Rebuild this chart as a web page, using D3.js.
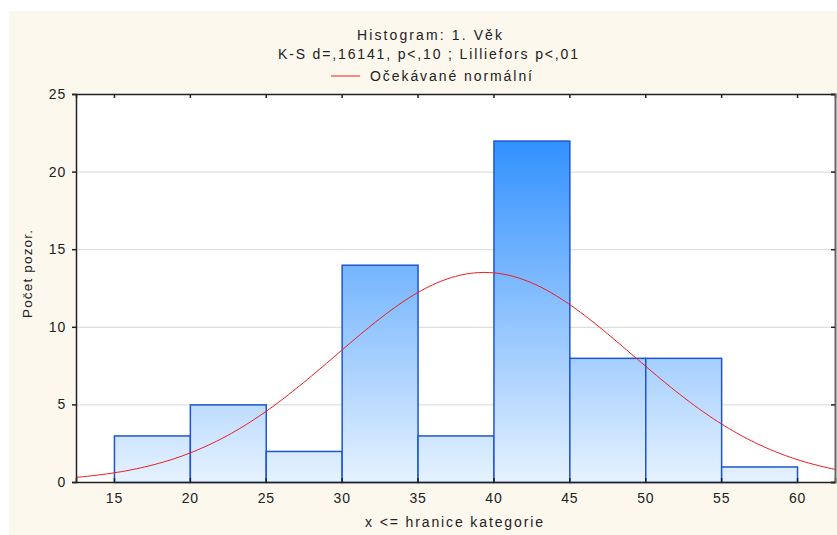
<!DOCTYPE html>
<html><head><meta charset="utf-8">
<script src="https://cdn.jsdelivr.net/npm/d3@7"></script>
<style>
html,body{margin:0;padding:0;background:#fff;}
text{font-family:"Liberation Sans",Arial,sans-serif;fill:#222;}
</style></head>
<body>
<svg id="c" width="837" height="535"></svg>
<script>
const binStarts = [15, 20, 25, 30, 35, 40, 45, 50, 55];
const binWidth = 5;
const counts = [3, 5, 2, 14, 3, 22, 8, 8, 1];
const xTicks = [15, 20, 25, 30, 35, 40, 45, 50, 55, 60];
const yTicks = [0, 5, 10, 15, 20, 25];
const normMean = 39.4;
const normSd = 9.75;
const titleLines = ["Histogram: 1. Věk", "K-S d=,16141, p<,10 ; Lilliefors p<,01"];
const legendLabel = "Očekávané normální";
const xLabel = "x <= hranice kategorie";
const yLabel = "Počet pozor.";

const svg = d3.select("#c");
svg.append("rect").attr("x",9).attr("y",11).attr("width",828).attr("height",524).attr("fill","#fdf8ee");

const L=76, R=835, T=94, B=482;
const x = d3.scaleLinear().domain([12.5,62.5]).range([L,R]);
const y = d3.scaleLinear().domain([0,25]).range([B,T]);

svg.append("rect").attr("x",L).attr("y",T).attr("width",R-L).attr("height",B-T).attr("fill","#fff");

const defs = svg.append("defs");
const g = defs.append("linearGradient").attr("id","bg").attr("gradientUnits","userSpaceOnUse")
  .attr("x1",0).attr("x2",0).attr("y1",y(25)).attr("y2",y(0));
g.append("stop").attr("offset","0%").attr("stop-color","#1a84ff");
g.append("stop").attr("offset","100%").attr("stop-color","#e6f2ff");

// gridlines
svg.append("g").selectAll("line").data(yTicks.filter(d=>d>0&&d<25)).join("line")
  .attr("x1",L).attr("x2",R).attr("y1",d=>y(d)+0.5).attr("y2",d=>y(d)+0.5)
  .attr("stroke","#d8d8d8").attr("stroke-width",1);

// bars
const total = d3.sum(counts);
svg.append("g").selectAll("rect").data(binStarts).join("rect")
  .attr("x",d=>x(d)+0.5).attr("y",(d,i)=>y(counts[i])+0.5)
  .attr("width",d=>x(d+binWidth)-x(d)).attr("height",(d,i)=>y(0)-y(counts[i]))
  .attr("fill","url(#bg)").attr("stroke","#1f56d0").attr("stroke-width",1.5);

// normal curve
const xs = d3.range(12.5, 62.5001, 0.25);
const peak = total*binWidth/(normSd*Math.sqrt(2*Math.PI));
const line = d3.line().x(d=>x(d)).y(d=>y(peak*Math.exp(-((d-normMean)**2)/(2*normSd*normSd))));
svg.append("path").datum(xs).attr("d",line).attr("fill","none").attr("stroke","#ee1c1c").attr("stroke-width",1);

// axes
const ax = svg.append("g").attr("transform",`translate(0,${B})`)
  .call(d3.axisBottom(x).tickValues(xTicks).tickSize(-4).tickPadding(11).tickFormat(d3.format("d")));
const ay = svg.append("g").attr("transform",`translate(${L},0)`)
  .call(d3.axisLeft(y).tickValues(yTicks).tickSize(4).tickPadding(6).tickFormat(d3.format("d")));
const at = svg.append("g").attr("transform",`translate(0,${T})`)
  .call(d3.axisTop(x).tickValues(xTicks).tickSize(-4).tickFormat(""));
const ar = svg.append("g").attr("transform",`translate(${R},0)`)
  .call(d3.axisRight(y).tickValues(yTicks).tickSize(-4).tickFormat(""));
[ax,ay,at,ar].forEach(a=>{
  a.select(".domain").attr("stroke","#222").attr("stroke-width",1.5);
  a.selectAll(".tick line").attr("stroke","#222").attr("stroke-width",1.5);
  a.selectAll("text").attr("font-size",14).attr("fill","#222").attr("letter-spacing",0.8)
   .style("font-family","'Liberation Sans',Arial,sans-serif");
});
ar.select(".domain").attr("stroke","#666").attr("stroke-width",2);

// titles
const titleSpec = [{cx:429.5, y:40, w:145}, {cx:428, y:59, w:300}];
svg.append("g").selectAll("text").data(titleLines).join("text")
  .attr("x",(d,i)=>titleSpec[i].cx).attr("y",(d,i)=>titleSpec[i].y).attr("text-anchor","middle")
  .attr("font-size",14).attr("textLength",(d,i)=>titleSpec[i].w).attr("lengthAdjust","spacing").text(d=>d);
svg.append("line").attr("x1",331).attr("x2",360).attr("y1",76).attr("y2",76).attr("stroke","#ee1c1c").attr("stroke-width",1);
svg.append("text").attr("x",370).attr("y",81).attr("font-size",14)
  .attr("textLength",162).attr("lengthAdjust","spacing").text(legendLabel);

svg.append("text").attr("x",454).attr("y",527).attr("text-anchor","middle").attr("font-size",14)
  .attr("textLength",178).attr("lengthAdjust","spacing").text(xLabel);
svg.append("text").attr("transform","translate(32,274) rotate(-90)").attr("text-anchor","middle").attr("font-size",13.5)
  .attr("textLength",88).attr("lengthAdjust","spacing").text(yLabel);
</script>
</body></html>
